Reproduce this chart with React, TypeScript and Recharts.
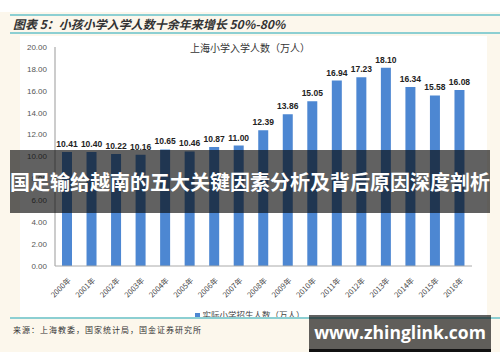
import React from "react";
import { BarChart, Bar, XAxis, YAxis, LabelList } from "recharts";

const years = [
  "2000年", "2001年", "2002年", "2003年", "2004年", "2005年", "2006年", "2007年", "2008年",
  "2009年", "2010年", "2011年", "2012年", "2013年", "2014年", "2015年", "2016年",
];
const enrolment = [
  10.41, 10.4, 10.22, 10.16, 10.65, 10.46, 10.87, 11.0, 12.39,
  13.86, 15.05, 16.94, 17.23, 18.1, 16.34, 15.58, 16.08,
];
const yTicks = [0, 2, 4, 6, 8, 10, 12, 14, 16, 18, 20];

const data = years.map((year, i) => ({ year, value: enrolment[i] }));

const CJK = '"Noto Sans CJK SC", "Noto Sans", sans-serif';
const BLUE = "#4d87d2";
const TEAL = "#8ccfd2";
const SHADE = "rgba(8,8,8,0.64)";

function YearTick(props: any) {
  const { x, y, payload } = props;
  return (
    <text
      x={x + 4}
      y={y + 7}
      transform={`rotate(-45, ${x + 4}, ${y + 7})`}
      textAnchor="end"
      fontSize={7.5}
      fill="#444"
      fontFamily={CJK}
    >
      {payload.value}
    </text>
  );
}

export default function App() {
  return (
    <div
      style={{
        position: "absolute",
        left: 0,
        top: 0,
        width: 500,
        height: 362,
        background: "#fff",
        overflow: "hidden",
        fontFamily: CJK,
      }}
    >
      {/* cream page band */}
      <div style={{ position: "absolute", left: 0, top: 12, width: 500, height: 340, background: "#fcf7ec" }} />
      {/* white chart panel */}
      <div style={{ position: "absolute", left: 20, top: 36, width: 467, height: 282, background: "#fff" }} />

      <div style={{ position: "absolute", left: 10, top: 14, width: 490, height: 2, background: TEAL }} />
      <div style={{ position: "absolute", left: 10, top: 32, width: 490, height: 2, background: TEAL }} />
      <div
        style={{
          position: "absolute",
          left: 13,
          top: 16,
          fontSize: 12,
          fontWeight: 700,
          fontStyle: "italic",
          color: "#333",
          whiteSpace: "nowrap",
          lineHeight: "16px",
        }}
      >
        图表 5：小孩小学入学人数十余年来增长 50%-80%
      </div>

      <div
        style={{
          position: "absolute",
          left: 0,
          width: 500,
          top: 41,
          textAlign: "center",
          fontSize: 10,
          color: "#333",
          lineHeight: "14px",
        }}
      >
        上海小学入学人数（万人）
      </div>

      <div style={{ position: "absolute", left: 0, top: 0 }}>
        <BarChart
          width={500}
          height={362}
          data={data}
          margin={{ top: 47, right: 28, bottom: 56, left: 15 }}
          barSize={10}
        >
          <YAxis
            domain={[0, 20]}
            ticks={yTicks}
            width={40}
            tickFormatter={(v: number) => v.toFixed(2)}
            tick={{ fontSize: 8, fill: "#555", fontFamily: "Liberation Sans, sans-serif" }}
            tickLine={false}
            axisLine={{ stroke: "#999" }}
            interval={0}
          />
          <XAxis
            dataKey="year"
            height={40}
            tick={<YearTick />}
            tickLine={false}
            axisLine={{ stroke: "#aaa" }}
            interval={0}
          />
          <Bar dataKey="value" fill={BLUE} isAnimationActive={false}>
            <LabelList
              dataKey="value"
              position="top"
              offset={5}
              formatter={(v: any) => Number(v).toFixed(2)}
              style={{ fontSize: 8.5, fontWeight: 700, fill: "#222", fontFamily: "Liberation Sans, sans-serif" }}
            />
          </Bar>
        </BarChart>
      </div>

      {/* legend */}
      <div
        style={{
          position: "absolute",
          left: 0,
          width: 500,
          top: 308,
          textAlign: "center",
          fontSize: 8.5,
          color: "#444",
          lineHeight: "12px",
        }}
      >
        <span style={{ display: "inline-block", width: 5, height: 5, background: BLUE, marginRight: 2 }} />
        实际小学招生人数（万人）
      </div>

      <div style={{ position: "absolute", left: 10, top: 317, width: 490, height: 2, background: TEAL }} />
      <div
        style={{
          position: "absolute",
          left: 13,
          top: 324,
          fontSize: 8,
          color: "#333",
          whiteSpace: "nowrap",
          lineHeight: "12px",
          letterSpacing: 1,
        }}
      >
        来源：上海教委，国家统计局，国金证券研究所
      </div>

      {/* overlay banner */}
      <div
        style={{
          position: "absolute",
          left: 10,
          top: 150,
          width: 480,
          height: 63,
          background: SHADE,
          color: "#fff",
          fontSize: 20,
          fontWeight: 700,
          lineHeight: "63px",
          textAlign: "center",
          whiteSpace: "nowrap",
        }}
      >
        国足输给越南的五大关键因素分析及背后原因深度剖析
      </div>

      {/* watermark */}
      <div
        style={{
          position: "absolute",
          left: 309,
          top: 315,
          width: 182,
          height: 34,
          background: SHADE,
          borderBottom: "3px solid #111",
          color: "#fff",
          fontSize: 17.5,
          fontWeight: 700,
          lineHeight: "34px",
          textAlign: "center",
          fontFamily: '"Open Sans", "Liberation Sans", sans-serif',
        }}
      >
        www.zhinglink.com
      </div>
    </div>
  );
}
